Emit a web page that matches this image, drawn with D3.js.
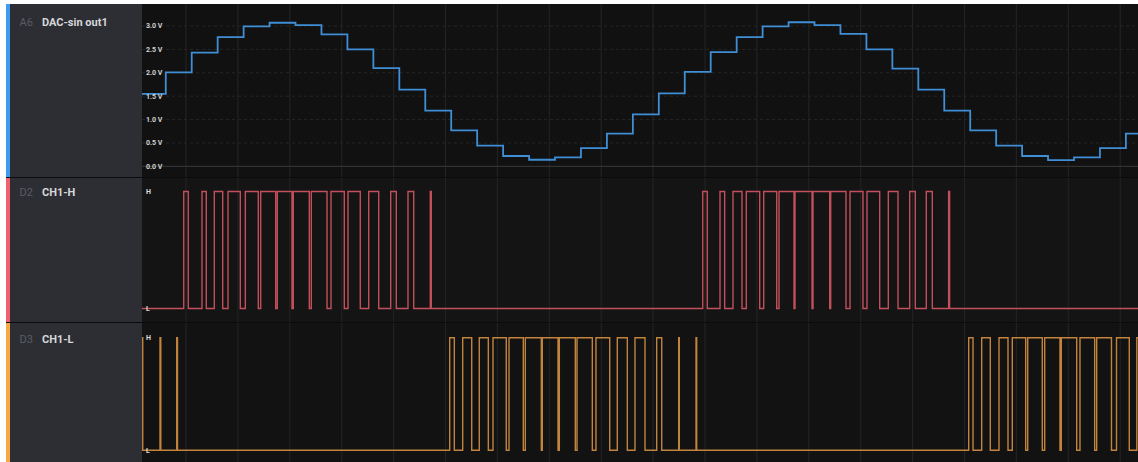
<!DOCTYPE html>
<html>
<head>
<meta charset="utf-8">
<script src="https://cdn.jsdelivr.net/npm/d3@7"></script>
<style>
  html, body { margin: 0; padding: 0; background: #ffffff; }
  svg { display: block; }
  text { font-family: Roboto, "Liberation Sans", Arial, sans-serif; }
</style>
</head>
<body>
<svg id="chart" width="1138" height="462"></svg>
<script>
// ---- DAC output (analog channel A6): held level per update, 50 µs apart ----
const dacStart = -89;      // µs, time of first update shown
const dacStep = 50;        // µs between DAC updates
const dacLevels = [
  1.55, 2.01, 2.43, 2.76, 2.99, 3.07, 3.02, 2.82, 2.50, 2.10,
  1.64, 1.19, 0.77, 0.44, 0.22, 0.14, 0.19, 0.39, 0.70, 1.11,
  1.56, 2.02, 2.44, 2.76, 2.99, 3.08, 3.02, 2.83, 2.50, 2.09,
  1.64, 1.19, 0.77, 0.44, 0.22, 0.13, 0.19, 0.39, 0.70
];
const voltTicks = [0, 0.5, 1.0, 1.5, 2.0, 2.5, 3.0];
const voltTickLabels = ["0.0 V", "0.5 V", "1.0 V", "1.5 V", "2.0 V", "2.5 V", "3.0 V"];

// ---- Digital channels: [rise, fall] times in µs (null fall = still high) ----
const ch1HighPulses = [
  [-4.4, 4.4], [30.8, 39.1], [54.5, 70.7], [80.9, 104.6], [114.3, 139.3],
  [143.9, 172.8], [175.9, 204.2], [206.7, 237.6], [241.4, 271.7], [279.4, 305.0],
  [312.1, 335.8], [352.0, 371.3], [394.4, 405.2], [427.7, 438.7], [470.7, 472.6],
  [995.6, 1004.4], [1028.9, 1037.9], [1053.9, 1071.3], [1079.6, 1105.4], [1113.1, 1138.2],
  [1142.6, 1171.5], [1173.4, 1206.2], [1208.1, 1240.3], [1242.2, 1271.7], [1279.4, 1304.4],
  [1312.1, 1336.6], [1353.2, 1371.9], [1394.4, 1405.2], [1426.4, 1438.0], [1469.4, 1471.3]
];
const ch1LowPulses = [
  [-93.1, -83.4], [-50.1, -48.6], [-17.9, -16.4],
  [508.1, 517.0], [533.1, 550.5], [565.1, 582.5], [591.5, 617.1], [622.4, 649.9],
  [653.8, 684.6], [686.5, 716.8], [719.3, 750.1], [753.4, 782.9], [789.9, 816.4],
  [831.0, 850.3], [865.1, 884.4], [906.9, 916.6], [949.3, 950.5], [982.7, 984.0],
  [1508.1, 1516.4], [1533.1, 1549.7], [1566.5, 1583.8], [1592.1, 1617.9], [1621.8, 1649.9],
  [1654.5, 1684.0], [1686.5, 1716.2], [1722.5, 1750.8], [1754.7, 1783.2], [1792.9, 1817.5],
  [1832.0, null]
];
const levelLabels = ["L", "H"];
const gridTimes = d3.range(-100, 1900, 100);   // µs, one division per 100 µs

// ---- layout ----
const W = 1138, H = 462;
const plotL = 142, plotR = 1138;
const rows = [
  { id: "A6", name: "DAC-sin out1", accent: "#3d9cf0", trace: "#3f8ed6", y0: 4,   y1: 177, bg: "#111111" },
  { id: "D2", name: "CH1-H",        accent: "#f0606f", trace: "#c24f5b", y0: 178, y1: 322, bg: "#141414" },
  { id: "D3", name: "CH1-L",        accent: "#f7a844", trace: "#c2843c", y0: 323, y1: 462, bg: "#121212" }
];

const svg = d3.select("#chart");
svg.append("rect").attr("x", 6).attr("y", 4).attr("width", W - 6).attr("height", H - 4).attr("fill", "#0b0b0b");

const x = d3.scaleLinear().domain([-84.8, 1834.3]).range([plotL, plotR]);
const tMin = x.domain()[0], tMax = x.domain()[1];

const yA = d3.scaleLinear().domain([0, 3]).range([166.3, 26]);
const yH = d3.scaleLinear().domain([0, 1]).range([308.5, 191.5]);
const yL = d3.scaleLinear().domain([0, 1]).range([450.3, 337.8]);
const yScales = [yA, yH, yL];

const defs = svg.append("defs");
rows.forEach((r, i) => {
  defs.append("clipPath").attr("id", "clip" + i)
    .append("rect").attr("x", plotL).attr("y", r.y0).attr("width", plotR - plotL).attr("height", r.y1 - r.y0);
});

// plot backgrounds and vertical division lines
rows.forEach((r, i) => {
  const g = svg.append("g").attr("clip-path", `url(#clip${i})`);
  g.append("rect").attr("x", plotL).attr("y", r.y0).attr("width", plotR - plotL).attr("height", r.y1 - r.y0).attr("fill", r.bg);
  g.selectAll("line.v").data(gridTimes).join("line")
    .attr("x1", d => x(d)).attr("x2", d => x(d))
    .attr("y1", r.y0).attr("y2", r.y1)
    .attr("stroke", "#222222").attr("stroke-width", 1.2);
});

// analog horizontal gridlines
const ga = svg.append("g").attr("clip-path", "url(#clip0)");
ga.selectAll("line.h").data(voltTicks).join("line")
  .attr("x1", plotL).attr("x2", plotR)
  .attr("y1", d => yA(d)).attr("y2", d => yA(d))
  .attr("stroke", d => d === 0 ? "#323232" : "#262626")
  .attr("stroke-width", d => d === 0 ? 1.2 : 1)
  .attr("stroke-dasharray", d => d === 0 ? null : "3,3");

// DAC staircase
const dacPts = dacLevels.map((v, i) => [dacStart + i * dacStep, v]);
dacPts.push([tMax + 20, dacLevels[dacLevels.length - 1]]);
const stepLine = (ys) => d3.line().x(d => x(d[0])).y(d => ys(d[1])).curve(d3.curveStepAfter);
ga.append("path").datum(dacPts)
  .attr("d", stepLine(yA))
  .attr("fill", "none").attr("stroke", rows[0].trace).attr("stroke-width", 1.8)
  .attr("stroke-linejoin", "miter");

// digital traces
function pulsesToPoints(pulses) {
  const pts = [[tMin - 30, 0]];
  let last = 0;
  pulses.forEach(([r, f]) => {
    pts.push([r, 1]); last = 1;
    if (f !== null) { pts.push([f, 0]); last = 0; }
  });
  pts.push([tMax + 30, last]);
  return pts;
}
[[ch1HighPulses, 1], [ch1LowPulses, 2]].forEach(([pulses, i]) => {
  svg.append("g").attr("clip-path", `url(#clip${i})`)
    .append("path").datum(pulsesToPoints(pulses))
    .attr("d", stepLine(yScales[i]))
    .attr("fill", "none").attr("stroke", rows[i].trace).attr("stroke-width", 1.4)
    .attr("stroke-linejoin", "miter");
});

// axis labels inside the plots
svg.append("g").selectAll("text").data(voltTicks).join("text")
  .attr("x", 146).attr("y", d => yA(d)).attr("dy", "0.35em")
  .attr("font-size", 7).attr("font-weight", 700).attr("fill", "#d2d2d2")
  .text((d, i) => voltTickLabels[i]);

[1, 2].forEach(i => {
  svg.append("g").selectAll("text").data([1, 0]).join("text")
    .attr("x", 146).attr("y", d => yScales[i](d)).attr("dy", "0.35em")
    .attr("font-size", 7).attr("font-weight", 700).attr("fill", "#dcdcdc")
    .text(d => levelLabels[d]);
});

// channel name panels
rows.forEach((r, i) => {
  svg.append("rect").attr("x", 10).attr("y", r.y0).attr("width", plotL - 10).attr("height", r.y1 - r.y0).attr("fill", "#2d2e33");
  svg.append("rect").attr("x", 6).attr("y", r.y0).attr("width", 4).attr("height", r.y1 - r.y0).attr("fill", r.accent);
  const ty = [25.5, 196.2, 343.2][i];
  svg.append("text").attr("x", 19.5).attr("y", ty)
    .attr("font-size", 11).attr("fill", "#5a5c62").text(r.id);
  svg.append("text").attr("x", 42).attr("y", ty)
    .attr("font-size", 11).attr("font-weight", 700).attr("fill", "#d6d7da").text(r.name);
});
</script>
</body>
</html>
